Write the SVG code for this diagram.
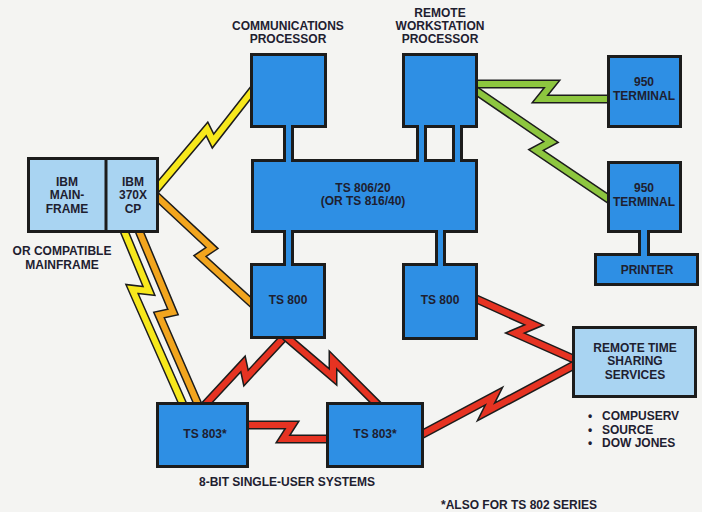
<svg xmlns="http://www.w3.org/2000/svg" width="702" height="512" viewBox="0 0 702 512">
<defs>
<style>
.bx{fill:#2e8fe4;stroke:#1c1c1c;stroke-width:3}
.lb{fill:#a9d4f2;stroke:#1c1c1c;stroke-width:3}
.t{font-family:"Liberation Sans",Arial,sans-serif;font-weight:bold;font-size:12px;fill:#1e2030;text-anchor:middle}
.tl{font-family:"Liberation Sans",Arial,sans-serif;font-weight:bold;font-size:12px;fill:#1e2030}
.o{fill:none;stroke:#1c1c1c;stroke-width:9;stroke-linejoin:miter;stroke-miterlimit:10}
.y{fill:none;stroke:#f7e81c;stroke-width:6;stroke-linejoin:miter;stroke-miterlimit:10}
.or{fill:none;stroke:#f2a51e;stroke-width:6;stroke-linejoin:miter;stroke-miterlimit:10}
.r{fill:none;stroke:#e63322;stroke-width:6;stroke-linejoin:miter;stroke-miterlimit:10}
.g{fill:none;stroke:#8dc63f;stroke-width:6;stroke-linejoin:miter;stroke-miterlimit:10}
.sf{fill:#2e8fe4}
.sl{stroke:#1c1c1c;stroke-width:3}
</style>
<mask id="m" maskUnits="userSpaceOnUse" x="0" y="0" width="702" height="512">
<rect x="0" y="0" width="702" height="512" fill="#fff"/>
<rect x="27" y="157" width="132" height="76" fill="#000"/>
<rect x="250" y="53" width="77" height="75" fill="#000"/>
<rect x="402" y="53" width="76" height="75" fill="#000"/>
<rect x="250" y="263" width="76" height="76" fill="#000"/>
<rect x="402" y="263" width="76" height="77" fill="#000"/>
<rect x="156" y="402" width="93" height="66" fill="#000"/>
<rect x="326" y="402" width="98" height="66" fill="#000"/>
<rect x="572" y="326" width="125" height="72" fill="#000"/>
<rect x="607" y="55" width="75" height="73" fill="#000"/>
<rect x="607" y="161" width="75" height="72" fill="#000"/>
</mask>
</defs>
<rect x="0" y="0" width="702" height="512" fill="#f4f4f2"/>

<g id="ibm-mainframe">
<rect class="lb" x="28.5" y="158.5" width="129" height="73"/>
<line x1="106" y1="158" x2="106" y2="232" class="sl"/>
<text class="t" x="67" y="186">IBM</text>
<text class="t" x="67" y="199">MAIN-</text>
<text class="t" x="67" y="213">FRAME</text>
<text class="t" x="133" y="186">IBM</text>
<text class="t" x="133" y="199">370X</text>
<text class="t" x="133" y="213">CP</text>
<text class="t" x="62" y="255">OR COMPATIBLE</text>
<text class="t" x="62" y="269">MAINFRAME</text>
</g>

<g id="communications-processor">
<rect class="bx" x="251.5" y="54.5" width="74" height="72"/>
<text class="t" x="288" y="30">COMMUNICATIONS</text>
<text class="t" x="288" y="43">PROCESSOR</text>
</g>

<g id="remote-workstation-processor">
<rect class="bx" x="403.5" y="54.5" width="73" height="72"/>
<text class="t" x="440" y="17">REMOTE</text>
<text class="t" x="440" y="30">WORKSTATION</text>
<text class="t" x="440" y="43">PROCESSOR</text>
</g>

<g id="ts806">
<rect class="bx" x="252.5" y="160.5" width="224" height="71"/>
<text class="t" x="363" y="192">TS 806/20</text>
<text class="t" x="363" y="205">(OR TS 816/40)</text>
</g>

<g id="ts800-left">
<rect class="bx" x="251.5" y="264.5" width="73" height="73"/>
<text class="t" x="288" y="304">TS 800</text>
</g>

<g id="ts800-right">
<rect class="bx" x="403.5" y="264.5" width="73" height="74"/>
<text class="t" x="440" y="304">TS 800</text>
</g>

<g id="ts803-left">
<rect class="bx" x="157.5" y="403.5" width="90" height="63"/>
<text class="t" x="205" y="438">TS 803*</text>
</g>

<g id="ts803-right">
<rect class="bx" x="327.5" y="403.5" width="95" height="63"/>
<text class="t" x="375" y="438">TS 803*</text>
</g>

<g id="remote-time-sharing">
<rect class="lb" x="573.5" y="327.5" width="122" height="69"/>
<text class="t" x="635" y="352">REMOTE TIME</text>
<text class="t" x="635" y="365">SHARING</text>
<text class="t" x="635" y="379">SERVICES</text>
<text class="tl" y="420"><tspan x="588">•</tspan><tspan x="602">COMPUSERV</tspan></text>
<text class="tl" y="434"><tspan x="588">•</tspan><tspan x="602">SOURCE</tspan></text>
<text class="tl" y="447"><tspan x="588">•</tspan><tspan x="602">DOW JONES</tspan></text>
</g>

<g id="terminal-1">
<rect class="bx" x="608.5" y="56.5" width="72" height="70"/>
<text class="t" x="644" y="86">950</text>
<text class="t" x="644" y="100">TERMINAL</text>
</g>

<g id="terminal-2">
<rect class="bx" x="608.5" y="162.5" width="72" height="69"/>
<text class="t" x="644" y="192">950</text>
<text class="t" x="644" y="206">TERMINAL</text>
</g>

<g id="printer">
<rect class="bx" x="595.5" y="254.5" width="102" height="30"/>
<text class="t" x="647" y="274">PRINTER</text>
</g>

<g id="captions">
<text class="t" x="287" y="486">8-BIT SINGLE-USER SYSTEMS</text>
<text class="t" x="519" y="509">*ALSO FOR TS 802 SERIES</text>
</g>

<g id="connectors">
<g mask="url(#m)">
<polyline class="o" points="153,193 207,129 213,141 256,86"/>
<polyline class="y" points="153,193 207,129 213,141 256,86"/>
<polyline class="o" points="153,193 212,248 200,256 256,307"/>
<polyline class="or" points="153,193 212,248 200,256 256,307"/>
<polyline class="o" points="122,226 149,291 132,289 185,409"/>
<polyline class="y" points="122,226 149,291 132,289 185,409"/>
<polyline class="o" points="137,226 173,312 159,315 200,409"/>
<polyline class="or" points="137,226 173,312 159,315 200,409"/>
<polyline class="o" points="287,334 246,378 243,364 203,407"/>
<polyline class="r" points="287,334 246,378 243,364 203,407"/>
<polyline class="o" points="285,336 333,377 333,360 380,407"/>
<polyline class="r" points="285,336 333,377 333,360 380,407"/>
<polyline class="o" points="244,425 292,425 283,439 331,439"/>
<polyline class="r" points="244,425 292,425 283,439 331,439"/>
<polyline class="o" points="472,297 534,325 515,333 578,361"/>
<polyline class="r" points="472,297 534,325 515,333 578,361"/>
<polyline class="o" points="419,436 494,396 486,412 578,363"/>
<polyline class="r" points="419,436 494,396 486,412 578,363"/>
<polyline class="o" points="472,84 552,84 540,99 613,99"/>
<polyline class="g" points="472,84 552,84 540,99 613,99"/>
<polyline class="o" points="472,88 551,142 536,150 613,202"/>
<polyline class="g" points="472,88 551,142 536,150 613,202"/>
</g>
<g id="bus-links">
<rect class="sf" x="284.5" y="124" width="8" height="40"/>
<line class="sl" x1="284.5" y1="125" x2="284.5" y2="162"/>
<line class="sl" x1="292.5" y1="125" x2="292.5" y2="162"/>
<rect class="sf" x="417.5" y="124" width="8" height="40"/>
<line class="sl" x1="417.5" y1="125" x2="417.5" y2="162"/>
<line class="sl" x1="425.5" y1="125" x2="425.5" y2="162"/>
<rect class="sf" x="453.5" y="124" width="8" height="40"/>
<line class="sl" x1="453.5" y1="125" x2="453.5" y2="162"/>
<line class="sl" x1="461.5" y1="125" x2="461.5" y2="162"/>
<rect class="sf" x="284.5" y="228" width="8" height="40"/>
<line class="sl" x1="284.5" y1="230" x2="284.5" y2="266"/>
<line class="sl" x1="292.5" y1="230" x2="292.5" y2="266"/>
<rect class="sf" x="436.5" y="228" width="8" height="40"/>
<line class="sl" x1="436.5" y1="230" x2="436.5" y2="266"/>
<line class="sl" x1="444.5" y1="230" x2="444.5" y2="266"/>
<rect class="sf" x="639.5" y="228" width="9" height="30"/>
<line class="sl" x1="639.5" y1="230" x2="639.5" y2="256"/>
<line class="sl" x1="648.5" y1="230" x2="648.5" y2="256"/>
</g>
</g>
</svg>
